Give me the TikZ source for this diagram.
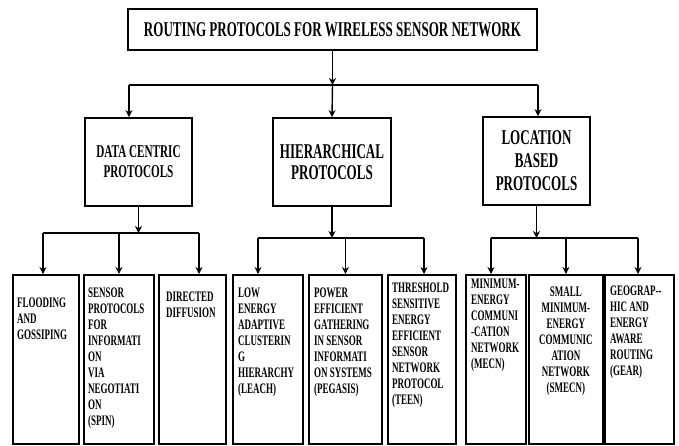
\documentclass[tikz,border=0pt]{standalone}
\usepackage{fontspec}
\newfontfamily\narrowfont{Liberation Serif}[FakeStretch=0.62]
\usetikzlibrary{arrows.meta}
\tikzset{
  box/.style={draw, line width=1.8pt, inner sep=0pt, align=center},
  leaf/.style={draw, line width=1.8pt, anchor=north west, minimum height=169pt, inner sep=0pt},
  leaftext/.style={anchor=north west, align=left, inner sep=0pt,
    font=\narrowfont\bfseries\fontsize{14.5}{16}\selectfont},
  arr/.style={line width=1.4pt, -{Stealth[length=7pt,width=7pt]}},
  bus/.style={line width=2.2pt}
}
\begin{document}
\begin{tikzpicture}[x=1pt,y=-1pt]
    \useasboundingbox (0,0) rectangle (679,445);

    % Title box
    \node[box, minimum width=409pt, minimum height=41pt,
      font=\narrowfont\bfseries\fontsize{21}{22}\selectfont] (root) at (332.5,29.5)
      {ROUTING PROTOCOLS FOR WIRELESS SENSOR NETWORK};

    % Three families of protocols
    \node[box, minimum width=107pt, minimum height=88pt,
      font=\narrowfont\bfseries\fontsize{18}{20}\selectfont] (data) at (138.5,162)
      {DATA CENTRIC\\PROTOCOLS};
    \node[box, minimum width=118pt, minimum height=88pt,
      font=\narrowfont\bfseries\fontsize{21}{21}\selectfont] (hier) at (332,162)
      {HIERARCHICAL\\PROTOCOLS};
    \node[box, minimum width=107pt, minimum height=88pt,
      font=\narrowfont\bfseries\fontsize{21}{23}\selectfont] (loc) at (536.5,161)
      {LOCATION\\BASED\\PROTOCOLS};

    % Upper bus
    \coordinate (busL) at (129,85);
    \coordinate (busR) at (538,85);
    \draw[bus] (busL) -- (busR);
    \draw[arr] (root.south) -- (root.south |- busL);
    \draw[arr] (busL) -- (busL |- data.north);
    \draw[arr] (root.south |- busL) -- (hier.north);
    \draw[arr] (busR) -- (busR |- loc.north);

    % Leaf boxes
    \node[leaf, minimum width=66pt] (flood) at (12,274) {};
    \node[leaf, minimum width=70pt] (spin) at (83,274) {};
    \node[leaf, minimum width=67pt] (dd) at (158,274) {};
    \node[leaf, minimum width=70pt] (leach) at (232,274) {};
    \node[leaf, minimum width=73pt] (pegasis) at (308,274) {};
    \node[leaf, minimum width=68pt] (teen) at (387,274) {};
    \node[leaf, minimum width=60pt] (mecn) at (465,274) {};
    \node[leaf, minimum width=74pt] (smecn) at (528,274) {};
    \node[leaf, minimum width=69pt] (gear) at (604,274) {};

    % Leaf texts
    \node[leaftext] (floodtxt) at ([xshift=5pt,yshift=-24pt]flood.north west)
      {FLOODING\\AND\\GOSSIPING};
    \node[leaftext] (spintxt) at ([xshift=5pt,yshift=-14pt]spin.north west)
      {SENSOR\\PROTOCOLS\\FOR\\INFORMATI\\ON\\VIA\\NEGOTIATI\\ON\\(SPIN)};
    \node[leaftext] (ddtxt) at ([xshift=8pt,yshift=-18pt]dd.north west)
      {DIRECTED\\DIFFUSION};
    \node[leaftext] (leachtxt) at ([xshift=6pt,yshift=-14pt]leach.north west)
      {LOW\\ENERGY\\ADAPTIVE\\CLUSTERIN\\G\\HIERARCHY\\(LEACH)};
    \node[leaftext] (pegasistxt) at ([xshift=6pt,yshift=-14pt]pegasis.north west)
      {POWER\\EFFICIENT\\GATHERING\\IN SENSOR\\INFORMATI\\ON SYSTEMS\\(PEGASIS)};
    \node[leaftext] (teentxt) at ([xshift=5pt,yshift=-9pt]teen.north west)
      {THRESHOLD\\SENSITIVE\\ENERGY\\EFFICIENT\\SENSOR\\NETWORK\\PROTOCOL\\(TEEN)};
    \node[leaftext] (mecntxt) at ([xshift=6pt,yshift=-5pt]mecn.north west)
      {MINIMUM-\\ENERGY\\COMMUNI\\-CATION\\NETWORK\\(MECN)};
    \node[leaftext, anchor=north, align=center] (smecntxt) at ([yshift=-13pt]smecn.north)
      {SMALL\\MINIMUM-\\ENERGY\\COMMUNIC\\ATION\\NETWORK\\(SMECN)};
    \node[leaftext] (geartxt) at ([xshift=6pt,yshift=-12pt]gear.north west)
      {GEOGRAP-{}-\\HIC AND\\ENERGY\\AWARE\\ROUTING\\(GEAR)};

    % Data centric bus
    \coordinate (dL) at (43,233);
    \coordinate (dR) at (199,233);
    \draw[bus] (dL) -- (dR);
    \draw[arr] (data.south) -- (data.south |- dL);
    \draw[arr] (dL) -- (dL |- flood.north);
    \draw[arr] (spin.north |- dL) -- (spin.north);
    \draw[arr] (dR) -- (dR |- dd.north);

    % Hierarchical bus
    \coordinate (hL) at (258,238);
    \coordinate (hR) at (424,238);
    \draw[bus] (hL) -- (hR);
    \draw[arr] (hier.south) -- (hier.south |- hL);
    \draw[arr] (hL) -- (hL |- leach.north);
    \draw[arr] (pegasis.north |- hL) -- (pegasis.north);
    \draw[arr] (hR) -- (hR |- teen.north);

    % Location based bus
    \coordinate (lL) at (491,238);
    \coordinate (lR) at (638,238);
    \draw[bus] (lL) -- (lR);
    \draw[arr] (loc.south) -- (loc.south |- lL);
    \draw[arr] (lL) -- (lL |- mecn.north);
    \draw[arr] (smecn.north |- lL) -- (smecn.north);
    \draw[arr] (lR) -- (lR |- gear.north);
\end{tikzpicture}
\end{document}
